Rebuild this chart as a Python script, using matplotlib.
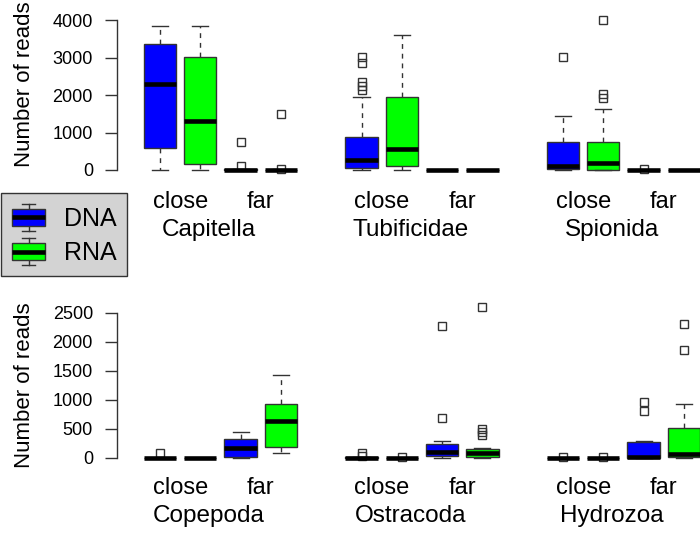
import matplotlib
matplotlib.use("Agg")
import matplotlib.pyplot as plt
from matplotlib.legend_handler import HandlerBase
from matplotlib.patches import Rectangle, Patch
from matplotlib.lines import Line2D

plt.rcParams['font.family'] = ['Liberation Sans', 'DejaVu Sans']

# ---------------- data ----------------
taxa = ["Capitella", "Tubificidae", "Spionida", "Copepoda", "Ostracoda", "Hydrozoa"]
sites = ["close", "far"]
series = ["DNA", "RNA"]
series_colors = ["#0000ff", "#00ff00"]
# box order within each panel: DNA close, RNA close, DNA far, RNA far
whislo = [
    [0, 0, 0, 0],
    [0, 0, 0, 0],
    [0, 0, 0, 0],
    [0, 0, 0, 75],
    [0, 0, 0, 0],
    [0, 0, 0, 0],
]
q1 = [
    [580, 150, 0, 0],
    [60, 115, 0, 0],
    [20, 10, 0, 0],
    [0, 0, 15, 190],
    [0, 0, 25, 15],
    [0, 0, 0, 5],
]
med = [
    [2300, 1300, 5, 5],
    [260, 560, 0, 0],
    [110, 180, 0, 0],
    [0, 0, 165, 630],
    [0, 0, 93, 75],
    [0, 0, 20, 60],
]
q3 = [
    [3350, 3020, 15, 10],
    [890, 1940, 0, 0],
    [740, 760, 0, 0],
    [0, 0, 320, 920],
    [5, 0, 236, 145],
    [0, 0, 265, 520],
]
whishi = [
    [3850, 3850, 30, 20],
    [1940, 3600, 0, 0],
    [1450, 1630, 0, 0],
    [0, 0, 450, 1420],
    [10, 0, 282, 160],
    [0, 0, 293, 925],
]
fliers = [
    [[], [], [100, 760], [30, 1490]],
    [[2130, 2250, 2360, 2850, 3020], [], [], []],
    [[3020], [1930, 2020, 4000], [15], []],
    [[80], [], [], []],
    [[30, 80], [20], [690, 2270], [390, 440, 490, 2600]],
    [[10], [10], [810, 965], [1850, 2300]],
]
row_yticks = [[0, 1000, 2000, 3000, 4000], [0, 500, 1000, 1500, 2000, 2500]]

# ---------------- layout (pixels) ----------------
W, H = 700, 537
fig = plt.figure(figsize=(7, 5.37), dpi=100)

EDGE = "#333333"
ax_w = 185
ax_h = 175
row_top = [5, 295]
row_zero_px = [170, 457.7]
row_scale = [26.667, 17.24]       # data units per pixel
col_left = [116.5, 318.0, 519.5]
px_per_unit = 40.3
first_offset = 43.5               # px from axes left to position 1
tick_pad = [7.6, 5.0]
label_pad = [4.5, 4.7]


def add_px_axes(left, top, width, height):
    return fig.add_axes([left / W, 1 - (top + height) / H, width / W, height / H])


for i, name in enumerate(taxa):
    r, c = divmod(i, 3)
    ax = add_px_axes(col_left[c], row_top[r], ax_w, ax_h)
    stats = []
    for j in range(4):
        stats.append(dict(whislo=whislo[i][j], q1=q1[i][j], med=med[i][j],
                          q3=q3[i][j], whishi=whishi[i][j], fliers=fliers[i][j]))
    res = ax.bxp(stats, positions=[1, 2, 3, 4], widths=0.8, capwidths=0.4,
                 patch_artist=True, showfliers=True,
                 boxprops=dict(edgecolor=EDGE, linewidth=1.0),
                 medianprops=dict(color="black", linewidth=3.3, solid_capstyle="butt"),
                 whiskerprops=dict(color=EDGE, linewidth=1.0, linestyle=(0, (3.5, 3.5))),
                 capprops=dict(color=EDGE, linewidth=1.0),
                 flierprops=dict(marker="s", markerfacecolor="none", markeredgecolor=EDGE,
                                 markersize=5.3, markeredgewidth=1.0))
    for j, box in enumerate(res["boxes"]):
        box.set_facecolor(series_colors[j % 2])

    x0 = 1 - first_offset / px_per_unit
    ax.set_xlim(x0, x0 + ax_w / px_per_unit)
    zero = row_zero_px[r]
    sc = row_scale[r]
    ax.set_ylim(-(row_top[r] + ax_h - zero) * sc, (zero - row_top[r]) * sc)

    for s in ["top", "right", "bottom", "left"]:
        ax.spines[s].set_visible(False)
    ax.set_xticks([1.5, 3.5], sites)
    ax.tick_params(axis="x", length=0, pad=tick_pad[r], labelsize=17)
    ax.set_xlabel(name, fontsize=17.5, labelpad=label_pad[r])
    if c == 0:
        yt = row_yticks[r]
        ax.spines["left"].set_visible(True)
        ax.spines["left"].set_bounds(yt[0], yt[-1])
        ax.spines["left"].set_color(EDGE)
        ax.spines["left"].set_linewidth(1.0)
        ax.set_yticks(yt, [str(v) for v in yt])
        ax.tick_params(axis="y", length=9, width=1.0, color=EDGE, pad=8, labelsize=13)
    else:
        ax.set_yticks([])
    ax.patch.set_alpha(0)

# y labels
fig.text(25 / W, 1 - 84.5 / H, "Number of reads", rotation=90, ha="center", va="center", fontsize=16)
fig.text(25 / W, 1 - 385 / H, "Number of reads", rotation=90, ha="center", va="center", fontsize=16)


# ---------------- legend ----------------
class BoxHandler(HandlerBase):
    def create_artists(self, legend, orig_handle, xdescent, ydescent, width, height, fontsize, trans):
        fc = orig_handle.get_facecolor()
        x0 = -xdescent
        y0 = -ydescent
        bh = height * 0.62
        by = y0 + (height - bh) / 2
        cx = x0 + width / 2
        cw = width * 0.4
        arts = [
            Line2D([cx, cx], [y0, by], color=EDGE, lw=1, transform=trans),
            Line2D([cx, cx], [by + bh, y0 + height], color=EDGE, lw=1, transform=trans),
            Line2D([cx - cw / 2, cx + cw / 2], [y0, y0], color=EDGE, lw=1, transform=trans),
            Line2D([cx - cw / 2, cx + cw / 2], [y0 + height, y0 + height], color=EDGE, lw=1, transform=trans),
            Rectangle((x0, by), width, bh, facecolor=fc, edgecolor=EDGE, lw=1, transform=trans),
            Line2D([x0, x0 + width], [y0 + height / 2] * 2, color="black", lw=3.3,
                   solid_capstyle="butt", transform=trans),
        ]
        return arts


handles = [Patch(facecolor=series_colors[k], label=series[k]) for k in range(2)]
leg = fig.legend(handles=handles, labels=series, handler_map={Patch: BoxHandler()},
                 loc="upper left", bbox_to_anchor=(1 / W, 1 - 193 / H),
                 bbox_transform=fig.transFigure, borderaxespad=0, fontsize=18,
                 handlelength=1.3, handleheight=1.25, labelspacing=0.3,
                 handletextpad=0.75, borderpad=0.45, frameon=True, fancybox=False,
                 facecolor="#d3d3d3", edgecolor=EDGE, framealpha=1)
leg.get_frame().set_linewidth(1.0)

fig.savefig("out.png", dpi=100)
